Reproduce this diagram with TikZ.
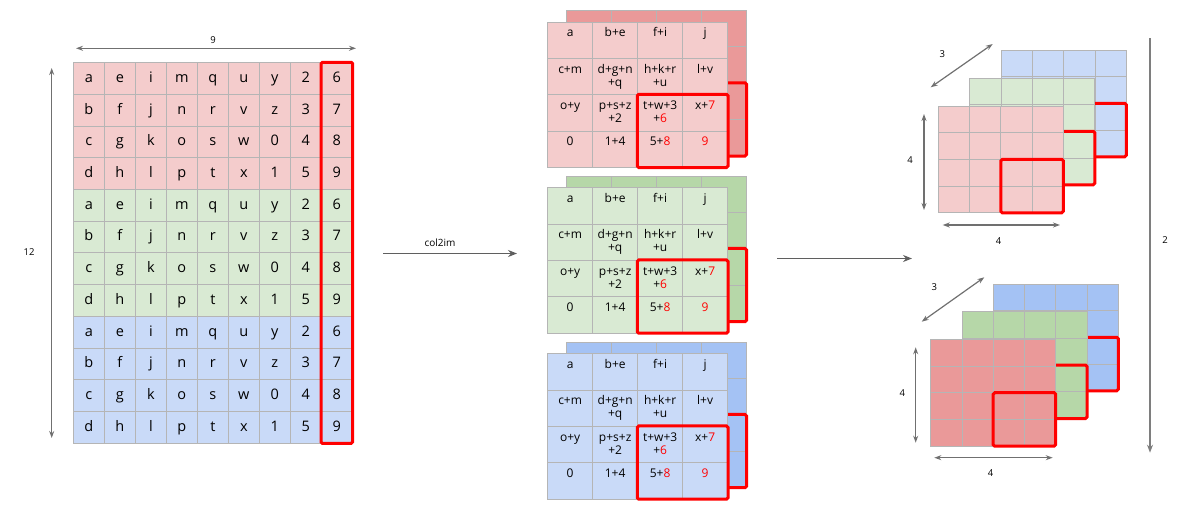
\documentclass[tikz,border=0pt]{standalone}
\usepackage{fontspec}
\setmainfont{Open Sans}
\usetikzlibrary{arrows.meta}
\definecolor{lr}{HTML}{F4CCCC}
\definecolor{lg}{HTML}{D9EAD3}
\definecolor{lb}{HTML}{C9DAF8}
\definecolor{dr}{HTML}{EA9999}
\definecolor{dg}{HTML}{B6D7A8}
\definecolor{db}{HTML}{A4C2F4}
\definecolor{gridc}{HTML}{B5B5B5}
\definecolor{arrc}{HTML}{707070}
\definecolor{hired}{HTML}{FF0000}
\newcommand{\fs}{\rule{0pt}{15pt}}
\newcommand{\rd}[1]{\textcolor{hired}{#1}}
\tikzset{
  lcell/.style={draw=gridc, line width=0.7pt, minimum width=31pt, minimum height=31.7pt, inner sep=0pt, anchor=north west, text height=8pt, text depth=0pt, font=\fontsize{14.5}{16}\selectfont},
  mcell/.style={draw=gridc, line width=0.7pt, minimum width=45pt, minimum height=36.3pt, inner sep=0pt, anchor=north west},
  mtext/.style={anchor=north, inner sep=0pt, align=center, font=\fontsize{12}{13}\selectfont},
  rcell/.style={draw=gridc, line width=0.7pt},
  hl/.style={draw=hired, line width=3pt, rounded corners=1.5pt},
  dim/.style={draw=arrc, line width=1.2pt, {Stealth[length=7pt,width=5pt]}-{Stealth[length=7pt,width=5pt]}},
  bigarrow/.style={draw=arrc!85!black, line width=1.5pt, -{Stealth[length=9pt,width=7pt]}},
  lab/.style={font=\fontsize{9.5}{11}\selectfont, inner sep=0pt}
}
\def\lrowZ{a,e,i,m,q,u,y,2,6}
\def\lrowA{b,f,j,n,r,v,z,3,7}
\def\lrowB{c,g,k,o,s,w,0,4,8}
\def\lrowC{d,h,l,p,t,x,1,5,9}
\newcommand{\mstack}[5]{%
  \foreach \r in {0,...,3}{\foreach \c in {0,...,3}{
    \node[mcell, fill=#5] (#1b-\r-\c) at ({#2+18.5+\c*45},{#3-11.5+\r*36.3}) {};
  }}
  \draw[hl] (#1b-2-2.north west) rectangle (#1b-3-3.south east);
  \foreach \r in {0,...,3}{\foreach \c in {0,...,3}{
    \node[mcell, fill=#4] (#1f-\r-\c) at ({#2+\c*45},{#3+\r*36.3}) {};
  }}
  \node[mtext] (#1t-0-0) at (#1f-0-0.north) {\fs a};
  \node[mtext] (#1t-0-1) at (#1f-0-1.north) {\fs b+e};
  \node[mtext] (#1t-0-2) at (#1f-0-2.north) {\fs f+i};
  \node[mtext] (#1t-0-3) at (#1f-0-3.north) {\fs j};
  \node[mtext] (#1t-1-0) at (#1f-1-0.north) {\fs c+m};
  \node[mtext] (#1t-1-1) at (#1f-1-1.north) {\fs d+g+n\\+q};
  \node[mtext] (#1t-1-2) at (#1f-1-2.north) {\fs h+k+r\\+u};
  \node[mtext] (#1t-1-3) at (#1f-1-3.north) {\fs l+v};
  \node[mtext] (#1t-2-0) at (#1f-2-0.north) {\fs o+y};
  \node[mtext] (#1t-2-1) at (#1f-2-1.north) {\fs p+s+z\\+2};
  \node[mtext] (#1t-2-2) at (#1f-2-2.north) {\fs t+w+3\\+\rd{6}};
  \node[mtext] (#1t-2-3) at (#1f-2-3.north) {\fs x+\rd{7}};
  \node[mtext] (#1t-3-0) at (#1f-3-0.north) {\fs 0};
  \node[mtext] (#1t-3-1) at (#1f-3-1.north) {\fs 1+4};
  \node[mtext] (#1t-3-2) at (#1f-3-2.north) {\fs 5+\rd{8}};
  \node[mtext] (#1t-3-3) at (#1f-3-3.north) {\fs \rd{9}};
  \draw[hl] (#1f-2-2.north west) rectangle (#1f-3-3.south east);
}
\newcommand{\rgrid}[3]{%
  \foreach \r in {0,...,3}{\foreach \c in {0,...,3}{
    \draw[rcell, fill=#3] ({#1+\c*31.25},{#2+\r*26.7}) rectangle ++(31.25,26.7);
  }}
  \draw[hl] ({#1+62.5},{#2+53.4}) rectangle ++(62.5,53.4);
}
\begin{document}
\begin{tikzpicture}[x=1pt,y=-1pt]
\useasboundingbox (0,0) rectangle (1200,513);
% left grid
\foreach \r in {0,...,11}{
  \pgfmathtruncatemacro{\g}{div(\r,4)}
  \pgfmathtruncatemacro{\m}{mod(\r,4)}
  \ifcase\g \def\fc{lr}\or \def\fc{lg}\or \def\fc{lb}\fi
  \ifcase\m \let\cur\lrowZ\or \let\cur\lrowA\or \let\cur\lrowB\or \let\cur\lrowC\fi
  \foreach \t [count=\c from 0] in \cur {
    \node[lcell, fill=\fc] (L-\r-\c) at ({73+\c*31},{62.3+\r*31.7}) {\t};
  }
}
\draw[hl] (L-0-8.north west) rectangle (L-11-8.south east);
\coordinate (t1) at (76,48.3);
\coordinate (t2) at (356,48.3);
\draw[dim] (t1) -- (t2);
\node[lab] (l9) at (213,40) {9};
\coordinate (v1) at (51.7,68);
\coordinate (v2) at (51.7,438);
\draw[dim] (v1) -- (v2);
\node[lab] (l12) at (29,252) {12};
% col2im arrow
\coordinate (a1) at (383,253.5);
\coordinate (a2) at (517,253.5);
\draw[bigarrow] (a1) -- (a2);
\node[lab, font=\fontsize{10}{12}\selectfont] (lc) at (440,243) {col2im};
% middle stacks
\mstack{R}{547.3}{21.7}{lr}{dr}
\mstack{G}{547.3}{187.3}{lg}{dg}
\mstack{B}{547.3}{353.3}{lb}{db}
% second arrow
\coordinate (b1) at (777,258.5);
\coordinate (b2) at (912,258.5);
\draw[bigarrow] (b1) -- (b2);
% right top
\rgrid{1001.3}{50}{lb}
\rgrid{969.8}{78}{lg}
\rgrid{938.3}{106}{lr}
\coordinate (d1) at (930.7,87.3);
\coordinate (d2) at (992.7,44);
\draw[dim] (d1) -- (d2);
\node[lab] (n3a) at (942.3,54) {3};
\coordinate (e1) at (924,114);
\coordinate (e2) at (924,210);
\draw[dim] (e1) -- (e2);
\node[lab] (n4a) at (910,160) {4};
\coordinate (f1) at (942.7,225);
\coordinate (f2) at (1060,225);
\draw[dim] (f1) -- (f2);
\node[lab] (n4b) at (998.7,240.7) {4};
% right bottom
\rgrid{993.3}{284}{db}
\rgrid{962}{311.7}{dg}
\rgrid{930.7}{339.3}{dr}
\coordinate (g1) at (921.7,321.7);
\coordinate (g2) at (984.3,277.3);
\draw[dim] (g1) -- (g2);
\node[lab] (n3b) at (934.3,287.3) {3};
\coordinate (h1) at (915.7,347.3);
\coordinate (h2) at (915.7,442.7);
\draw[dim] (h1) -- (h2);
\node[lab] (n4c) at (902.3,393.3) {4};
\coordinate (k1) at (934.3,457.7);
\coordinate (k2) at (1052.7,457.7);
\draw[dim] (k1) -- (k2);
\node[lab] (n4d) at (990.7,473.3) {4};
% right long arrow
\coordinate (z1) at (1150,38.3);
\coordinate (z2) at (1150,452.7);
\draw[draw=arrc!90, line width=1.6pt, -{Stealth[length=8pt,width=6pt]}] (z1) -- (z2);
\node[lab] (n2) at (1165,240) {2};
\end{tikzpicture}
\end{document}
